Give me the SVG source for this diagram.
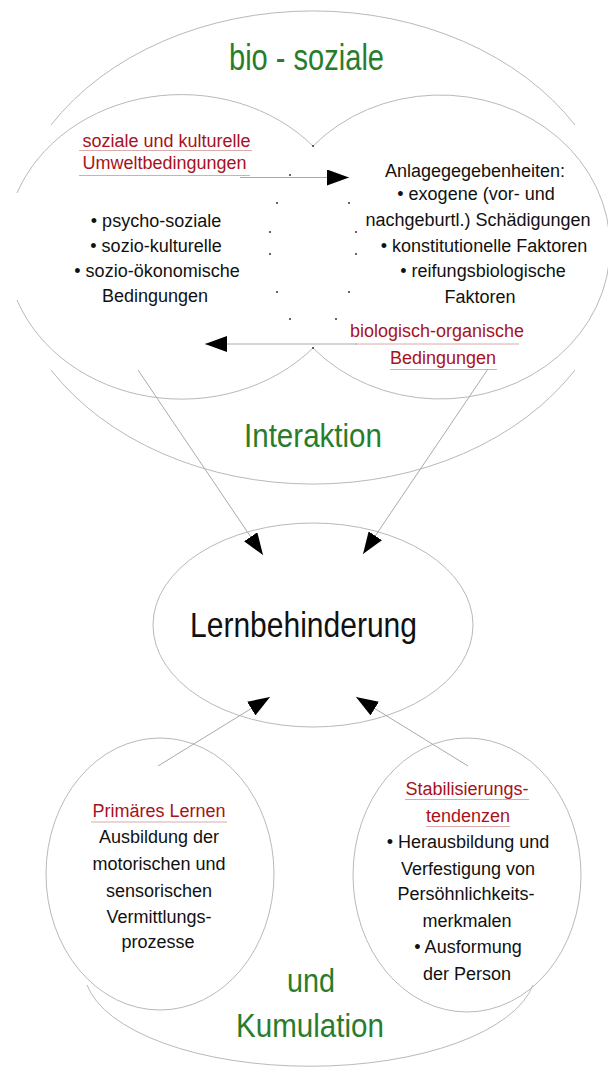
<svg xmlns="http://www.w3.org/2000/svg" width="608" height="1068" viewBox="0 0 608 1068">
<style>
.shape{fill:none;stroke:#b9b9b9;stroke-width:1}
.conn{fill:none;stroke:#aaaaaa;stroke-width:1}
.ul{stroke:#dcaaaa;stroke-width:1}
.t{font-family:"Liberation Sans",Arial,sans-serif;text-anchor:middle}
.body{font-size:18px;fill:#111}
.red{font-size:18px;fill:#a8121c}
.green{fill:#287d2d}
.big{fill:#111}
.dot{fill:#333}
</style>
<defs>
<marker id="ah" viewBox="0 0 22 16" refX="22" refY="8" markerWidth="22" markerHeight="16" orient="auto" markerUnits="userSpaceOnUse">
<path d="M0,0 L22,8 L0,16 z" fill="#000"/>
</marker>
</defs>
<rect width="608" height="1068" fill="#fff"/>

<g id="bio-soziale">
<path class="shape" d="M 51 125 A 306 236 0 0 1 575 125"/>
<path class="shape" d="M 51 370 A 306 236 0 0 0 575 370"/>
<text class="t green" x="306.5" y="70" font-size="37" textLength="155" lengthAdjust="spacingAndGlyphs">bio - soziale</text>
<text class="t green" x="313" y="447" font-size="34" textLength="138" lengthAdjust="spacingAndGlyphs">Interaktion</text>
</g>

<g id="soziale-kulturelle">
<path class="shape" d="M 313 146 A 175.6 152 0 0 0 17 193"/>
<path class="shape" d="M 17 300 A 175.6 152 0 0 0 313 348"/>
<g class="dot">
<circle cx="349" cy="203" r="1"/><circle cx="356" cy="232" r="1"/><circle cx="356" cy="254" r="1"/><circle cx="349" cy="292" r="1"/><circle cx="336" cy="319" r="1"/>
</g>
<text class="t red" x="166.5" y="147">soziale und kulturelle</text>
<line class="ul" x1="79" y1="150.5" x2="252" y2="150.5"/>
<text class="t red" x="164.5" y="169">Umweltbedingungen</text>
<line class="ul" x1="79" y1="175.5" x2="250" y2="175.5"/>
<text class="t body" x="156" y="227">• psycho-soziale</text>
<text class="t body" x="156" y="252">• sozio-kulturelle</text>
<text class="t body" x="157" y="277">• sozio-ökonomische</text>
<text class="t body" x="155" y="302">Bedingungen</text>
</g>

<g id="biologisch-organische">
<path class="shape" d="M 313 146 A 170 152 0 1 1 313 348"/>
<g class="dot">
<circle cx="313" cy="146" r="1"/><circle cx="313" cy="348" r="1"/>
<circle cx="290" cy="175" r="1"/><circle cx="277" cy="203" r="1"/><circle cx="270" cy="232" r="1"/><circle cx="270" cy="254" r="1"/><circle cx="277" cy="292" r="1"/><circle cx="290" cy="319" r="1"/>
</g>
<text class="t body" x="475" y="177">Anlagegegebenheiten:</text>
<text class="t body" x="476" y="200">• exogene (vor- und</text>
<text class="t body" x="478" y="226">nachgeburtl.) Schädigungen</text>
<text class="t body" x="484" y="252">• konstitutionelle Faktoren</text>
<text class="t body" x="483" y="277">• reifungsbiologische</text>
<text class="t body" x="480" y="303">Faktoren</text>
<text class="t red" x="437" y="337">biologisch-organische</text>
<line class="ul" x1="355" y1="344" x2="519" y2="344"/>
<text class="t red" x="443" y="364">Bedingungen</text>
<line class="ul" x1="390" y1="369.5" x2="497" y2="369.5"/>
</g>

<g id="lernbehinderung">
<ellipse class="shape" cx="313" cy="625" rx="160" ry="102"/>
<text class="t big" x="303.5" y="637" font-size="35" textLength="227" lengthAdjust="spacingAndGlyphs">Lernbehinderung</text>
</g>

<g id="kumulation">
<path class="shape" d="M 87 985 A 226 97 0 0 0 533 985"/>
<text class="t green" x="311" y="992" font-size="34" textLength="48" lengthAdjust="spacingAndGlyphs">und</text>
<text class="t green" x="310" y="1037" font-size="34" textLength="148" lengthAdjust="spacingAndGlyphs">Kumulation</text>
</g>

<g id="primaeres-lernen">
<ellipse class="shape" cx="160" cy="874" rx="114" ry="136" fill="#fff"/>
<text class="t red" x="159" y="817">Primäres Lernen</text>
<line class="ul" x1="91" y1="822" x2="227" y2="822"/>
<text class="t body" x="159" y="843">Ausbildung der</text>
<text class="t body" x="159" y="870">motorischen und</text>
<text class="t body" x="159" y="897">sensorischen</text>
<text class="t body" x="159" y="923">Vermittlungs-</text>
<text class="t body" x="158" y="948">prozesse</text>
</g>

<g id="stabilisierungstendenzen">
<ellipse class="shape" cx="467" cy="875" rx="114" ry="137"/>
<text class="t red" x="467" y="795">Stabilisierungs-</text>
<line class="ul" x1="405" y1="799.5" x2="529" y2="799.5"/>
<text class="t red" x="468" y="822">tendenzen</text>
<line class="ul" x1="426" y1="826.5" x2="510" y2="826.5"/>
<text class="t body" x="468" y="848">• Herausbildung und</text>
<text class="t body" x="468" y="875">Verfestigung von</text>
<text class="t body" x="466" y="900">Persöhnlichkeits-</text>
<text class="t body" x="467" y="927">merkmalen</text>
<text class="t body" x="468" y="953">• Ausformung</text>
<text class="t body" x="467" y="980">der Person</text>
</g>

<g id="connectors">
<line class="conn" x1="240" y1="177.5" x2="349" y2="177.5" marker-end="url(#ah)"/>
<line class="conn" x1="357" y1="344" x2="205" y2="344" marker-end="url(#ah)"/>
<line class="conn" x1="138" y1="370" x2="263" y2="555" marker-end="url(#ah)"/>
<line class="conn" x1="488" y1="369" x2="363" y2="554" marker-end="url(#ah)"/>
<line class="conn" x1="158" y1="766" x2="270" y2="697" marker-end="url(#ah)"/>
<line class="conn" x1="468" y1="766" x2="356" y2="697" marker-end="url(#ah)"/>
</g>
</svg>
